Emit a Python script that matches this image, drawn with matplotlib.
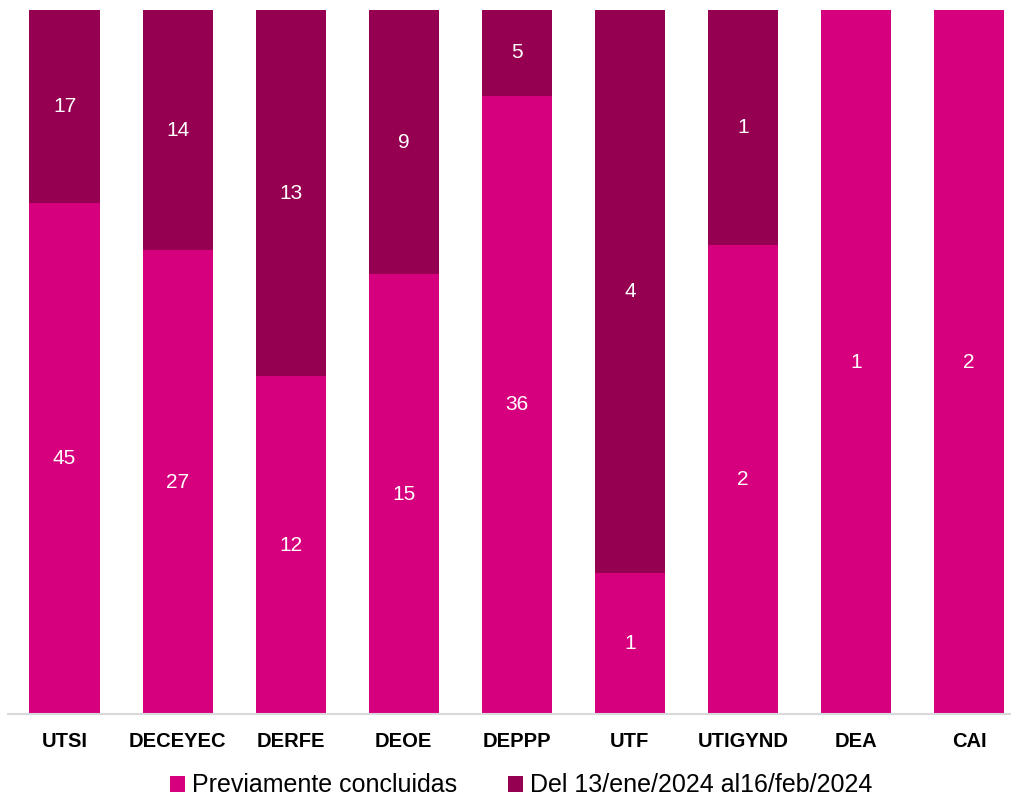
import numpy as np
import matplotlib
matplotlib.use("Agg")
import matplotlib.pyplot as plt

plt.rcParams['font.family'] = ['Liberation Sans', 'DejaVu Sans']

# data
areas = ['UTSI', 'DECEYEC', 'DERFE', 'DEOE', 'DEPPP', 'UTF', 'UTIGYND', 'DEA', 'CAI']
previas = [45, 27, 12, 15, 36, 1, 2, 1, 2]
periodo = [17, 14, 13, 9, 5, 4, 1, 0, 0]
series_names = ['Previamente concluidas', 'Del 13/ene/2024 al16/feb/2024']
colors = ['#D6007F', '#950050']

prev = np.array(previas, dtype=float)
per = np.array(periodo, dtype=float)
total = prev + per
prev_pct = prev / total
per_pct = per / total

fig = plt.figure(figsize=(10.12, 7.96), dpi=100)
ax = fig.add_axes([8 / 1012, 1 - 714 / 796, 1004 / 1012, 704 / 796])

x = np.arange(len(areas))
w = 0.62
b1 = ax.bar(x, prev_pct, w, color=colors[0], label=series_names[0])
b2 = ax.bar(x, per_pct, w, bottom=prev_pct, color=colors[1], label=series_names[1])

# labels in the middle of each segment
for i in range(len(areas)):
    ax.text(x[i], prev_pct[i] / 2, str(previas[i]), ha='center', va='center',
            color='white', fontsize=15)
    if periodo[i] > 0:
        ax.text(x[i], prev_pct[i] + per_pct[i] / 2, str(periodo[i]), ha='center',
                va='center', color='white', fontsize=15)

ax.set_xlim(-0.5, 8.38)
ax.set_ylim(0, 1)
ax.set_yticks([])
ax.set_xticks(x)
ax.set_xticklabels(areas, fontsize=14.5, fontweight='bold')
ax.tick_params(axis='x', length=0, pad=13)
for s in ['top', 'right', 'left']:
    ax.spines[s].set_visible(False)
ax.spines['bottom'].set_color('#D9D9D9')
ax.spines['bottom'].set_linewidth(1.5)

fig.legend(handles=[b1, b2], loc='lower center', bbox_to_anchor=(0.515, -0.03),
           ncol=2, frameon=False, fontsize=18, handlelength=0.6, handleheight=0.6,
           handletextpad=0.3, columnspacing=2.0)

fig.savefig('out.png', dpi=100)
